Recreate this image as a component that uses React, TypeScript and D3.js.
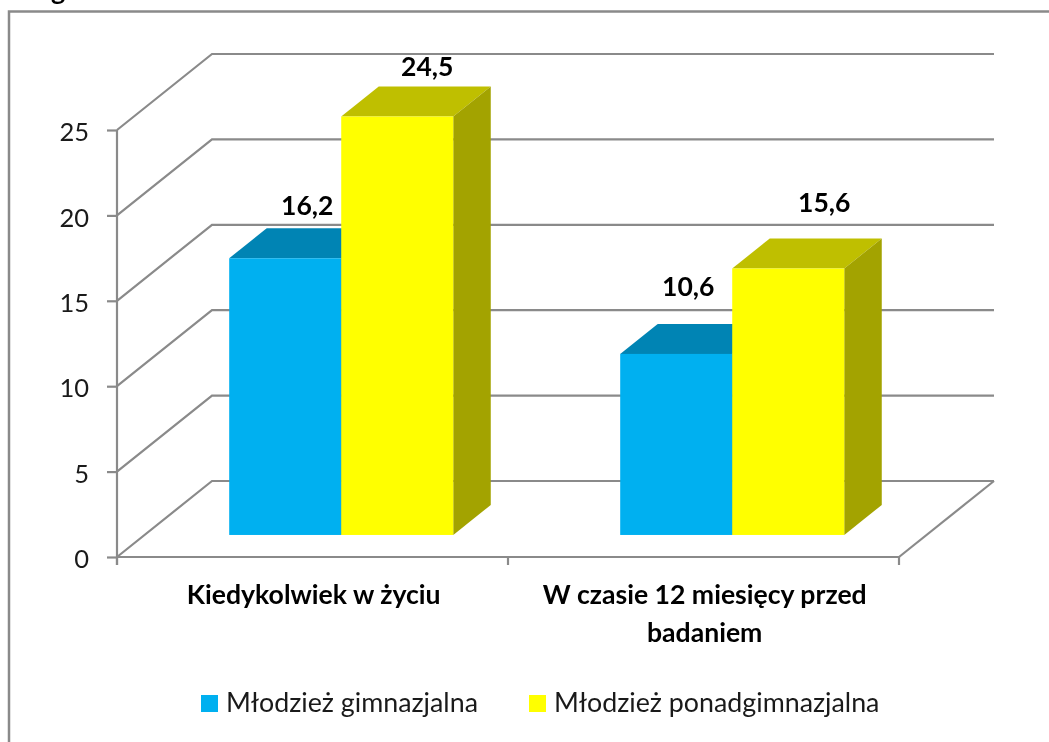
import React, { useEffect, useRef } from "react";
import * as d3 from "d3";

const categories = ["Kiedykolwiek w życiu", "W czasie 12 miesięcy przed badaniem"];
const seriesNames = ["Młodzież gimnazjalna", "Młodzież ponadgimnazjalna"];
const gimnazjalna = [16.2, 10.6];
const ponadgimnazjalna = [24.5, 15.6];
const yTicks = [0, 5, 10, 15, 20, 25];

const seriesValues = [gimnazjalna, ponadgimnazjalna];
const frontColors = ["#00B0F0", "#FFFF00"];
const topColors = ["#0084B4", "#BFBF00"];
const sideColors = ["#006C94", "#A3A300"];
const GREY = "#8a8a8a";
const FONT = "Lato, 'Noto Sans', sans-serif";

const width = 1049;
const height = 742;

// the labels were moved by hand in the original, so they sit unevenly over the bars
const labelNudge = [
  [
    [22, -43],
    [30, -41],
  ],
  [
    [12, -58],
    [36, -57],
  ],
];

function App() {
  const ref = useRef<SVGSVGElement>(null);

  useEffect(() => {
    const svg = d3.select(ref.current);
    svg.selectAll("*").remove();

    const x = d3
      .scaleBand()
      .domain(categories)
      .range([117, 899])
      .paddingInner(0.427)
      .paddingOuter(0.2135)
      .align(0.507);
    const xInner = d3
      .scaleBand()
      .domain(seriesNames)
      .range([0, x.bandwidth()]);
    const y = d3.scaleLinear().domain([0, 25]).range([557, 130]);

    // oblique projection: t = 0 front plane, t = 1 back wall
    const depthX = 95;
    const depthY = 76;
    const px = (v: number, t: number) => v + depthX * t;
    const py = (v: number, t: number) => v - depthY * t;
    const line = d3.line();

    // frame, clipped by the page on the right and bottom
    svg
      .append("path")
      .attr("d", line([[9, height], [9, 11.5], [width, 11.5]]))
      .attr("fill", "none")
      .attr("stroke", GREY)
      .attr("stroke-width", 2.5);

    // descender of the cut off title
    svg
      .append("text")
      .attr("x", 51)
      .attr("y", 0)
      .attr("font-family", FONT)
      .attr("font-weight", 700)
      .attr("font-size", 27)
      .attr("fill", "#000")
      .text("g");

    const wall = svg.append("g").attr("fill", "none").attr("stroke", GREY).attr("stroke-width", 2.2);
    wall
      .selectAll("path")
      .data(yTicks)
      .join("path")
      .attr("d", (d) =>
        line([
          [117, y(d)],
          [px(117, 1), py(y(d), 1)],
          [px(899, 1), py(y(d), 1)],
        ])
      );
    wall
      .append("path")
      .attr("d", line([[px(899, 1), py(y(0), 1)], [899, y(0)]]));

    // y axis
    svg
      .append("g")
      .attr("transform", "translate(117,0)")
      .call(d3.axisLeft(y).tickValues(yTicks).tickSize(10).tickPadding(18))
      .call((g) => g.select(".domain").attr("d", `M0,${y(25)}V${y(0) + 8}`).attr("stroke-width", 2.2).attr("stroke", GREY))
      .call((g) => g.selectAll("line").attr("stroke", GREY).attr("stroke-width", 2.2))
      .call((g) =>
        g
          .selectAll("text")
          .attr("font-family", FONT)
          .attr("font-size", 25.5)
          .attr("dy", "0.42em")
          .attr("fill", "#1a1a1a")
      );

    // x axis, labels only, the ticks sit on the category edges
    svg
      .append("g")
      .attr("transform", `translate(0,${y(0)})`)
      .call(d3.axisBottom(x).tickSize(0).tickPadding(28))
      .call((g) => g.select(".domain").attr("d", "M117,0H899").attr("stroke-width", 2.2).attr("stroke", GREY))
      .call((g) =>
        g
          .selectAll("text")
          .attr("font-family", FONT)
          .attr("font-weight", 700)
          .attr("font-size", 26.6)
          .attr("fill", "#000")
          .each(function (d: any) {
            const text = d3.select(this);
            const words = String(d).split(" ");
            const lines = words.length > 3 ? [words.slice(0, -1).join(" "), words[words.length - 1]] : [d];
            text.text(null);
            lines.forEach((l, i) => {
              text
                .append("tspan")
                .attr("x", 0)
                .attr("dy", i === 0 ? "0.71em" : 38)
                .text(l);
            });
          })
      );

    svg
      .append("g")
      .attr("stroke", GREY)
      .attr("stroke-width", 2.2)
      .selectAll("line")
      .data(d3.range(categories.length + 1))
      .join("line")
      .attr("x1", (i) => 117 + i * x.step())
      .attr("x2", (i) => 117 + i * x.step())
      .attr("y1", y(0))
      .attr("y2", y(0) + 8);

    // bars
    const t0 = 0.29;
    const t1 = 0.685;
    seriesValues.forEach((values, s) => {
      const g = svg.append("g");
      values.forEach((v, c) => {
        const xl = x(categories[c])! + xInner(seriesNames[s])!;
        const xr = xl + xInner.bandwidth();
        const yb = y(0);
        const yt = y(v);
        g.append("path")
          .attr("fill", topColors[s])
          .attr(
            "d",
            line([
              [px(xl, t0), py(yt, t0)],
              [px(xr, t0), py(yt, t0)],
              [px(xr, t1), py(yt, t1)],
              [px(xl, t1), py(yt, t1)],
            ]) + "Z"
          );
        g.append("path")
          .attr("fill", sideColors[s])
          .attr(
            "d",
            line([
              [px(xr, t0), py(yt, t0)],
              [px(xr, t1), py(yt, t1)],
              [px(xr, t1), py(yb, t1)],
              [px(xr, t0), py(yb, t0)],
            ]) + "Z"
          );
        g.append("rect")
          .attr("fill", frontColors[s])
          .attr("x", px(xl, t0))
          .attr("y", py(yt, t0))
          .attr("width", xr - xl)
          .attr("height", yb - yt);
      });
    });

    // value labels, on top of every bar
    seriesValues.forEach((values, s) => {
      values.forEach((v, c) => {
        const xl = x(categories[c])! + xInner(seriesNames[s])!;
        svg
          .append("text")
          .attr("x", px(xl + xInner.bandwidth() / 2, t0) + labelNudge[c][s][0])
          .attr("y", py(y(v), t0) + labelNudge[c][s][1])
          .attr("text-anchor", "middle")
          .attr("font-family", FONT)
          .attr("font-weight", 700)
          .attr("font-size", 26.5)
          .attr("fill", "#000")
          .text(String(v).replace(".", ","));
      });
    });

    // legend
    const legendX = [201, 529];
    seriesNames.forEach((name, s) => {
      svg
        .append("rect")
        .attr("x", legendX[s])
        .attr("y", 695)
        .attr("width", 17)
        .attr("height", 17)
        .attr("fill", frontColors[s]);
      svg
        .append("text")
        .attr("x", legendX[s] + 25)
        .attr("y", 712)
        .attr("font-family", FONT)
        .attr("font-size", 26.8)
        .attr("fill", "#1a1a1a")
        .text(name);
    });
  }, []);

  return (
    <svg
      ref={ref}
      width={width}
      height={height}
      style={{ position: "absolute", left: 0, top: 0, background: "#fff", filter: "blur(0.4px)" }}
    />
  );
}

export default App;
